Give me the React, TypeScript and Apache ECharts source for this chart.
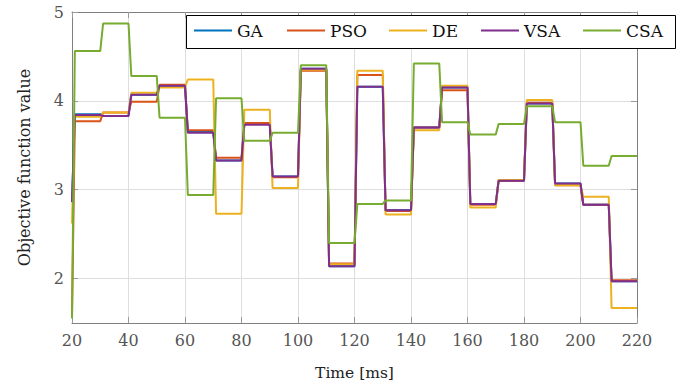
import React, { useEffect, useRef } from "react";
import * as echarts from "echarts";

// ---- data ----
const seriesNames = ["GA", "PSO", "DE", "VSA", "CSA"];
const seriesColors = ["#0072BD", "#D95319", "#EDB120", "#7E2F8E", "#77AC30"];

// step boundaries (ms)
const segmentBounds = [20, 30, 40, 50, 60, 70, 80, 90, 100, 110, 120, 130, 140, 150, 160, 170, 180, 190, 200, 210, 220];
const rampMs = 1;

// value at t = 20 ms (before the first step)
const initialValues = [2.86, 1.57, 2.62, 2.86, 1.55];

const gaValues = [3.85, 3.83, 4.07, 4.17, 3.65, 3.33, 3.74, 3.15, 4.36, 2.14, 4.16, 2.77, 3.70, 4.15, 2.84, 3.10, 3.97, 3.07, 2.83, 1.97];
const psoValues = [3.77, 3.87, 3.99, 4.18, 3.67, 3.36, 3.75, 3.14, 4.34, 2.17, 4.29, 2.76, 3.70, 4.12, 2.83, 3.10, 3.98, 3.05, 2.83, 1.98];
const deValues = [3.82, 3.87, 4.09, 4.15, 4.24, 2.73, 3.90, 3.02, 4.35, 2.16, 4.34, 2.72, 3.67, 4.17, 2.80, 3.11, 4.01, 3.05, 2.92, 1.67];
const vsaValues = [3.84, 3.83, 4.07, 4.17, 3.64, 3.33, 3.73, 3.15, 4.36, 2.14, 4.16, 2.77, 3.70, 4.15, 2.84, 3.10, 3.97, 3.07, 2.83, 1.97];
const csaValues = [4.56, 4.87, 4.28, 3.81, 2.94, 4.03, 3.55, 3.64, 4.40, 2.40, 2.84, 2.88, 4.42, 3.76, 3.62, 3.74, 3.94, 3.76, 3.27, 3.38];

const allValues = [gaValues, psoValues, deValues, vsaValues, csaValues];

const xTicks = [20, 40, 60, 80, 100, 120, 140, 160, 180, 200, 220];
const yTicks = [2, 3, 4, 5];
const xRange = [20, 220];
const yRange = [1.5, 5];

// legend item positions (icon left x)
const legendIconLeft = [194, 287, 389, 481, 583];

function buildSteps(start: number, values: number[]): [number, number][] {
  const pts: [number, number][] = [[segmentBounds[0], start]];
  values.forEach((v, i) => {
    pts.push([segmentBounds[i] + rampMs, v]);
    pts.push([segmentBounds[i + 1], v]);
  });
  return pts;
}

const FONT = "DejaVu Serif";

export default function App() {
  const ref = useRef<HTMLDivElement>(null);
  useEffect(() => {
    if (!ref.current) return;
    const chart = echarts.init(ref.current, undefined, { renderer: "svg" });
    const axisGray = "#7f7f7f";
    const gridGray = "#dedede";
    const option: any = {
      animation: false,
      backgroundColor: "#ffffff",
      grid: { left: 72, right: 46, top: 12, bottom: 62, containLabel: false },
      xAxis: [
        {
          type: "value",
          min: xRange[0],
          max: xRange[1],
          interval: 20,
          name: "Time [ms]",
          nameLocation: "middle",
          nameGap: 42,
          nameTextStyle: { fontFamily: FONT, fontSize: 15.5, color: "#222" },
          axisLine: { show: true, lineStyle: { color: axisGray, width: 1 } },
          axisTick: { show: true, inside: true, length: 6, lineStyle: { color: "#9a9a9a" } },
          axisLabel: {
            fontFamily: FONT,
            fontSize: 16,
            color: "#555",
            margin: 9,
            customValues: xTicks,
          },
          splitLine: { show: true, lineStyle: { color: gridGray, width: 1 } },
        },
        {
          type: "value",
          position: "top",
          min: xRange[0],
          max: xRange[1],
          interval: 20,
          axisLine: { show: true, onZero: false, lineStyle: { color: axisGray, width: 1 } },
          axisTick: { show: true, inside: true, length: 6, lineStyle: { color: "#9a9a9a" } },
          axisLabel: { show: false },
          splitLine: { show: false },
        },
      ],
      yAxis: [
        {
          type: "value",
          min: yRange[0],
          max: yRange[1],
          name: "Objective function value",
          nameLocation: "middle",
          nameRotate: 90,
          nameGap: 40,
          nameTextStyle: { fontFamily: FONT, fontSize: 16, color: "#222" },
          axisLine: { show: true, onZero: false, lineStyle: { color: axisGray, width: 1 } },
          axisTick: { show: true, inside: true, length: 6, customValues: yTicks, lineStyle: { color: "#9a9a9a" } },
          axisLabel: {
            fontFamily: FONT,
            fontSize: 16,
            color: "#555",
            margin: 8,
            customValues: yTicks,
          },
          splitLine: { show: true, lineStyle: { color: gridGray, width: 1 } },
        },
        {
          type: "value",
          position: "right",
          min: yRange[0],
          max: yRange[1],
          axisLine: { show: true, onZero: false, lineStyle: { color: axisGray, width: 1 } },
          axisTick: { show: true, inside: true, length: 6, customValues: yTicks, lineStyle: { color: "#9a9a9a" } },
          axisLabel: { show: false, customValues: yTicks },
          splitLine: { show: false },
        },
      ],
      legend: seriesNames.map((n, i) => ({
        data: [n],
        left: legendIconLeft[i],
        top: 22,
        padding: 0,
        icon: "rect",
        itemWidth: 38,
        itemHeight: 2.2,
        selectedMode: false,
        z: 10,
        textStyle: { fontFamily: FONT, fontSize: 17, color: "#111" },
      })),
      graphic: [
        {
          type: "rect",
          z: 5,
          shape: { x: 186.5, y: 15.5, width: 489, height: 33 },
          style: { fill: "#ffffff", stroke: "#000000", lineWidth: 1 },
        },
      ],
      series: seriesNames.map((n, i) => ({
        name: n,
        type: "line",
        xAxisIndex: 0,
        yAxisIndex: 0,
        data: buildSteps(initialValues[i], allValues[i]),
        showSymbol: false,
        symbol: "none",
        color: seriesColors[i],
        lineStyle: { width: 2, color: seriesColors[i] },
        z: 2 + i * 0.01,
      })),
    };
    chart.setOption(option);
    return () => chart.dispose();
  }, []);
  return (
    <div
      ref={ref}
      style={{ position: "fixed", left: 0, top: 0, width: 683, height: 386, background: "#fff" }}
    />
  );
}
